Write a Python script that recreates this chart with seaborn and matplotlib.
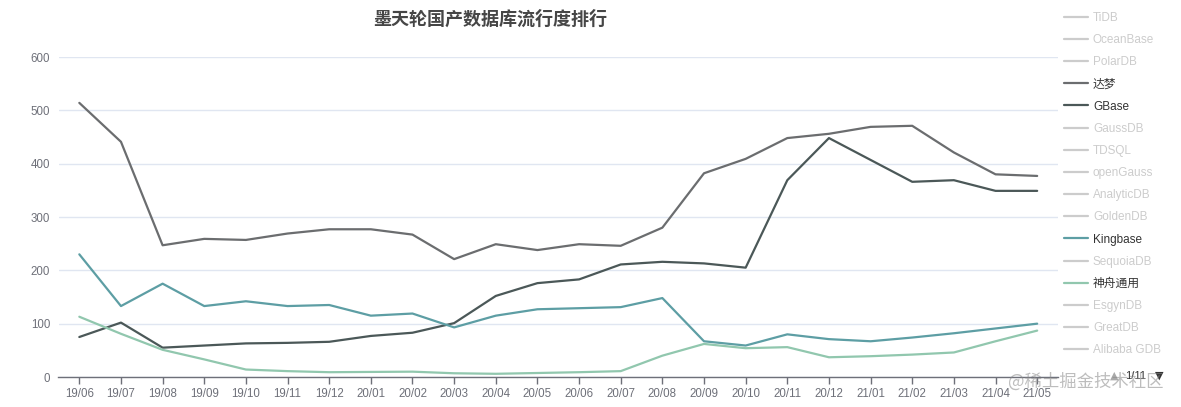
import matplotlib
matplotlib.use("Agg")
import matplotlib.pyplot as plt
import pandas as pd
import seaborn as sns
from matplotlib.lines import Line2D

# Data
months = ["19/06", "19/07", "19/08", "19/09", "19/10", "19/11", "19/12",
          "20/01", "20/02", "20/03", "20/04", "20/05", "20/06", "20/07",
          "20/08", "20/09", "20/10", "20/11", "20/12", "21/01", "21/02",
          "21/03", "21/04", "21/05"]
dameng = [514, 441, 247, 259, 257, 269, 277, 277, 267, 221, 249, 238,
          249, 246, 280, 382, 409, 448, 456, 469, 471, 421, 380, 377]
gbase = [75, 102, 55, 59, 63, 64, 66, 77, 83, 101, 152, 176,
         183, 211, 216, 213, 205, 369, 448, 407, 366, 369, 349, 349]
kingbase = [230, 133, 175, 133, 142, 133, 135, 115, 119, 93, 115, 127,
            129, 131, 148, 67, 59, 80, 71, 67, 74, 82, 91, 100]
shenzhou = [113, 81, 51, 33, 14, 11, 9, 9.5, 10, 7, 6, 7.5,
            9, 11, 40, 62, 54, 56, 37, 39, 42, 46, 67, 87]

legend_names = ["TiDB", "OceanBase", "PolarDB", "达梦", "GBase", "GaussDB",
                "TDSQL", "openGauss", "AnalyticDB", "GoldenDB", "Kingbase",
                "SequoiaDB", "神舟通用", "EsgynDB", "GreatDB", "Alibaba GDB"]

colors = {"达梦": "#6b6d6f", "GBase": "#4b5858",
          "Kingbase": "#5d9ea4", "神舟通用": "#91c7ae"}

series = {"达梦": dameng, "GBase": gbase, "Kingbase": kingbase, "神舟通用": shenzhou}
df = pd.concat([pd.DataFrame({"month": months, "value": v, "db": k})
                for k, v in series.items()], ignore_index=True)

sns.set_theme(style="white")
plt.rcParams['font.family'] = ['Liberation Sans', 'Noto Sans CJK SC', 'DejaVu Sans']

W, H = 1181, 407
fig = plt.figure(figsize=(W / 100, H / 100), dpi=100)
x0, x1, y_top, y_bot = 58.5, 1058, 57, 377
ax = fig.add_axes([x0 / W, (H - y_bot) / H, (x1 - x0) / W, (y_bot - y_top) / H])

sns.lineplot(data=df, x="month", y="value", hue="db", palette=colors,
             linewidth=1.6, sort=False, legend=False, ax=ax)

ax.set_xlim(-0.5, len(months) - 0.5)
ax.set_ylim(0, 600)
ax.set_yticks(range(0, 601, 100))
ax.set_xlabel("")
ax.set_ylabel("")
ax.grid(axis="y", color="#e0e6f1", linewidth=1)
ax.grid(axis="x", visible=False)
for s in ["left", "top", "right"]:
    ax.spines[s].set_visible(False)
ax.spines["bottom"].set_color("#6e7079")
ax.spines["bottom"].set_linewidth(1)
ax.tick_params(axis="x", bottom=True, length=5, width=1, color="#6e7079",
               labelsize=8.3, labelcolor="#6e7079", pad=3)
ax.tick_params(axis="y", left=False, length=0, labelsize=8.3,
               labelcolor="#6e7079", pad=6)

# Title
fig.text(490 / W, 1 - 20 / H, "墨天轮国产数据库流行度排行", ha="center", va="center",
         fontsize=13, fontweight="bold", color="#464646")

# Legend (only four series are switched on)
handles = [Line2D([], [], color=colors.get(n, "#cccccc"), linewidth=1.6) for n in legend_names]
leg = fig.legend(handles, legend_names, loc="upper left",
                 bbox_to_anchor=(1064 / W, 1 - 12 / H), frameon=False,
                 fontsize=8.5, handlelength=2.0, handletextpad=0.45,
                 labelspacing=0.86, borderpad=0, borderaxespad=0)
for t, n in zip(leg.get_texts(), legend_names):
    t.set_color("#333333" if n in colors else "#cccccc")

# Legend pager
fig.text(1114 / W, 1 - 376 / H, "▲", ha="center", va="center", fontsize=8,
         color="#aaaaaa", family=["DejaVu Sans"])
fig.text(1136 / W, 1 - 376 / H, "1/11", ha="center", va="center", fontsize=8,
         color="#333333")
fig.text(1159 / W, 1 - 376 / H, "▼", ha="center", va="center", fontsize=8,
         color="#333333", family=["DejaVu Sans"])

# Watermark
fig.text(1086 / W, 1 - 382 / H, "@稀土掘金技术社区", ha="center", va="center",
         fontsize=12.5, color="#888888", alpha=0.55,
         family=["Noto Sans CJK SC", "DejaVu Sans"])

fig.savefig("out.png", dpi=100)
